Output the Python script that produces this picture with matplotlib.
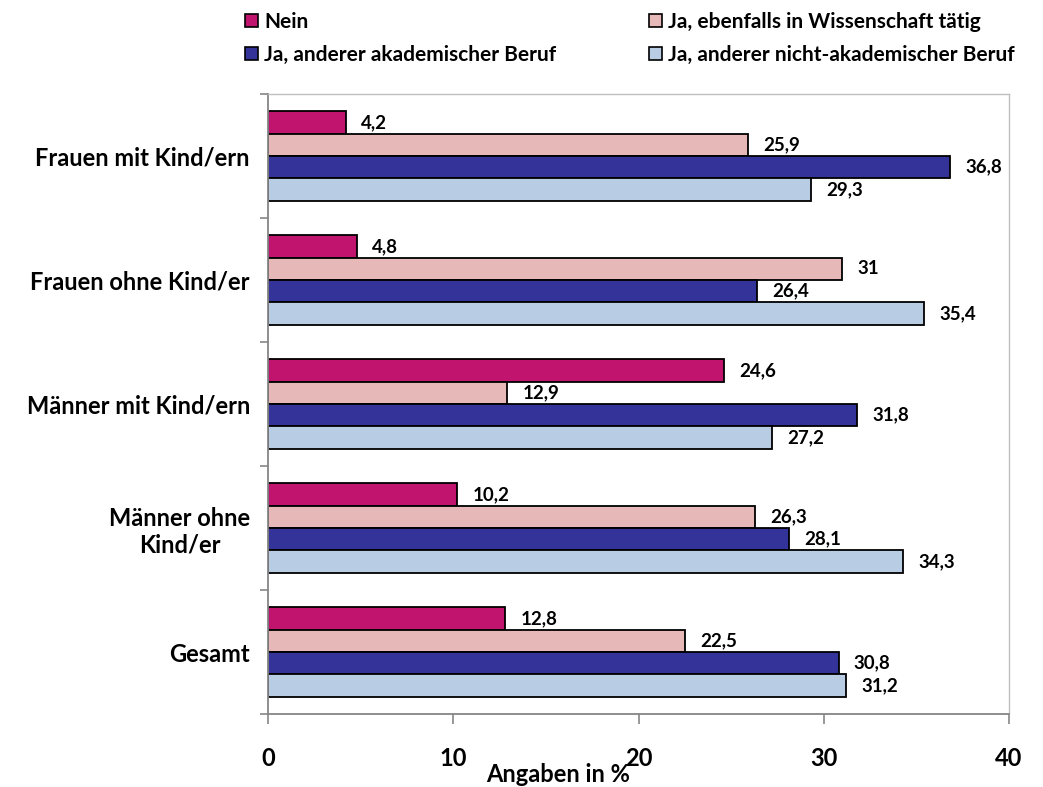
import numpy as np
import matplotlib
matplotlib.use("Agg")
import matplotlib.pyplot as plt
from matplotlib.patches import Patch

plt.rcParams['font.family'] = ['Lato', 'DejaVu Sans']
plt.rcParams['font.weight'] = 'bold'

categories = ["Frauen mit Kind/ern", "Frauen ohne Kind/er", "Männer mit Kind/ern",
              "Männer ohne\nKind/er", "Gesamt"]
series_names = ["Nein", "Ja, ebenfalls in Wissenschaft tätig",
                "Ja, anderer akademischer Beruf", "Ja, anderer nicht-akademischer Beruf"]
nein = [4.2, 4.8, 24.6, 10.2, 12.8]
ebenfalls = [25.9, 31, 12.9, 26.3, 22.5]
akademisch = [36.8, 26.4, 31.8, 28.1, 30.8]
nicht_akademisch = [29.3, 35.4, 27.2, 34.3, 31.2]
x_ticks = [0, 10, 20, 30, 40]

colors = ["#C0146E", "#E6B8B7", "#333399", "#B8CCE4"]
series = [nein, ebenfalls, akademisch, nicht_akademisch]

fig = plt.figure(figsize=(10.43, 7.87), dpi=100)
ax = fig.add_axes([268 / 1043, 1 - 714 / 787, (1009 - 268) / 1043, (714 - 94) / 787])

y = np.arange(len(categories))
h = 0.18
for i, (vals, col) in enumerate(zip(series, colors)):
    pos = y + (i - 1.5) * h
    ax.barh(pos, vals, height=h, color=col, edgecolor="black", linewidth=1.3)
    for p, v in zip(pos, vals):
        ax.annotate(f"{v:g}".replace(".", ","), xy=(v, p), xytext=(11, 0),
                    textcoords="offset points", va="center", ha="left",
                    fontsize=13.5, fontweight="bold")

ax.set_xlim(0, 40)
ax.set_ylim(len(categories) - 0.5, -0.5)
ax.set_xticks(x_ticks)
ax.set_xticklabels([str(t) for t in x_ticks], fontsize=17, fontweight="bold")
ax.set_yticks(y)
ax.set_yticklabels(categories, fontsize=17, fontweight="bold")
for lab in ax.get_yticklabels():
    lab.set_multialignment("center")
ax.set_yticks(np.arange(len(categories) + 1) - 0.5, minor=True)
ax.tick_params(axis="y", which="major", length=0, pad=13)
ax.tick_params(axis="y", which="minor", length=6, color="#868686", width=1.2)
ax.tick_params(axis="x", length=7, color="#868686", width=1.2, pad=17)

for side in ["left", "bottom"]:
    ax.spines[side].set_color("#868686")
    ax.spines[side].set_linewidth(1.3)
for side in ["top", "right"]:
    ax.spines[side].set_color("#BFBFBF")
    ax.spines[side].set_linewidth(1.0)

fig.text(558 / 1043, 1 - 775 / 787, "Angaben in %", ha="center", va="center",
         fontsize=17, fontweight="bold")

handles = [Patch(facecolor=c, edgecolor="black", linewidth=1.2) for c in colors]
leg_kw = dict(loc="upper left", frameon=False, borderpad=0, borderaxespad=0,
              handlelength=0.62, handleheight=0.62, handletextpad=0.3,
              labelspacing=0.62, prop={"size": 15, "weight": "bold"})
fig.legend([handles[0], handles[2]], [series_names[0], series_names[2]],
           bbox_to_anchor=(245 / 1043, 1 - 12 / 787), **leg_kw)
fig.legend([handles[1], handles[3]], [series_names[1], series_names[3]],
           bbox_to_anchor=(649 / 1043, 1 - 12 / 787), **leg_kw)

fig.savefig("out.png", dpi=100)
